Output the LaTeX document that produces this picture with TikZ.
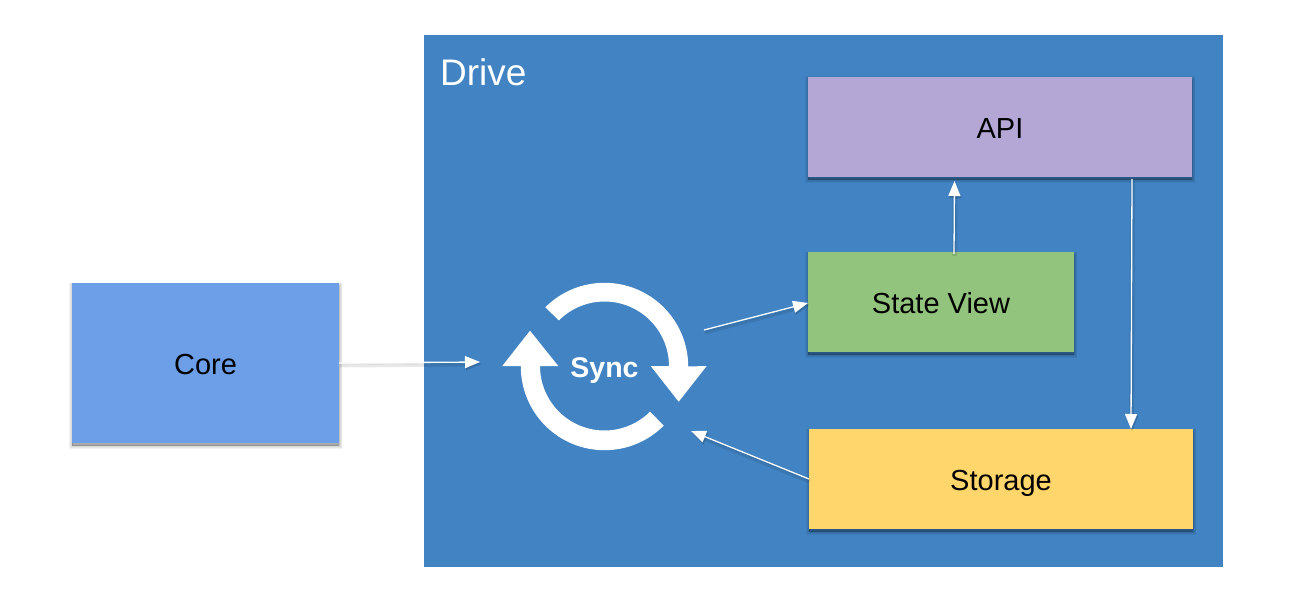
\documentclass[tikz,border=0pt]{standalone}
\usepackage{fontspec}
\setmainfont{Liberation Sans}
\usetikzlibrary{arrows.meta}
\definecolor{drivec}{RGB}{65,131,195}
\definecolor{corec}{RGB}{109,158,232}
\definecolor{apic}{RGB}{180,167,214}
\definecolor{statec}{RGB}{147,196,125}
\definecolor{storec}{RGB}{255,214,108}
\tikzset{
  softlayer/.style={preaction={draw=black,fill=black,draw opacity=.05,fill opacity=.05,line width=#1,transform canvas={xshift=.4pt,yshift=-2.5pt}}},
  softshadow/.style={softlayer=6pt,softlayer=4.5pt,softlayer=3pt,softlayer=1.5pt,softlayer=.3pt},
  panel/.style={anchor=north west,inner sep=0pt,outer sep=0pt,text=black,font=\fontsize{29}{32}\selectfont},
  boxed/.style={panel,softshadow},
  flow/.style={draw=white,line width=1.3pt,-{Triangle[length=15pt,width=12pt,fill=white]}},
  flowshade/.style={draw=black,draw opacity=.09,line width=5pt,shorten >=8pt,transform canvas={xshift=.6pt,yshift=-2pt}},
  headshade/.style={draw=black,opacity=.15,line width=.1pt,-{Triangle[length=15pt,width=12pt]},transform canvas={xshift=1pt,yshift=-2pt}}
}
\begin{document}
\begin{tikzpicture}[x=1pt,y=1pt,yscale=-1]
\useasboundingbox (0,0) rectangle (1294,610);
\fill[white] (0,0) rectangle (1294,610);
% Panels
\node[panel,fill=drivec,minimum width=799pt,minimum height=532pt] (drive) at (424,35) {};
\node[anchor=west,inner sep=0pt,text=white,font=\fontsize{37}{40}\selectfont] (drivelabel) at (440,72) {Drive};
\node[boxed,fill=corec,minimum width=267pt,minimum height=160pt,text height=23pt,text depth=0pt] (core) at (72,283) {Core};
\node[boxed,fill=apic,minimum width=384pt,minimum height=100pt,text height=24pt,text depth=0pt] (api) at (808,77) {API};
\node[boxed,fill=statec,minimum width=266pt,minimum height=100pt,text height=23pt,text depth=0pt] (state) at (808,252) {State View};
\node[boxed,fill=storec,minimum width=384pt,minimum height=100pt,text height=23pt,text depth=0pt] (storage) at (809,429) {Storage};
% Sync cycle
\fill[white] (604.5,366.5) ++(-135:83.7) arc[start angle=-135,end angle=0,radius=83.7]
  -- (706.7,366) -- (678.7,401.7) -- (650.7,366) -- (669,366)
  arc[start angle=0,end angle=-135,radius=64.5] -- cycle;
\fill[white] (604.5,366.5) ++(45:83.7) arc[start angle=45,end angle=180,radius=83.7]
  -- (520.8,366) -- (502.3,366) -- (530,330.7) -- (558.3,366) -- (540,366)
  arc[start angle=180,end angle=45,radius=64.5] -- cycle;
\node[inner sep=0pt,text=white,font=\fontsize{28.5}{30}\selectfont\bfseries] (sync) at (604.5,371) {Sync};
% Connector free ends
\coordinate (syncin) at (480,362);
\coordinate (syncoutfrom) at (704,330);
\coordinate (statein) at (808,303);
\coordinate (statefrom) at (954,254);
\coordinate (apiin) at (954.5,181);
\coordinate (apifrom) at (1132,179);
\coordinate (storein) at (1131,429);
\coordinate (storefrom) at (809,479);
\coordinate (syncback) at (691,431);
% Connector shadows
\draw[flowshade] (core.east) -- (syncin);
\draw[flowshade] (syncoutfrom) -- (statein);
\draw[flowshade] (statefrom) -- (apiin);
\draw[flowshade] (apifrom) -- (storein);
\draw[flowshade] (storefrom) -- (syncback);
\draw[headshade] (core.east) -- (syncin);
\draw[headshade] (syncoutfrom) -- (statein);
\draw[headshade] (statefrom) -- (apiin);
\draw[headshade] (apifrom) -- (storein);
\draw[headshade] (storefrom) -- (syncback);
% Connectors
\draw[flow] (core.east) -- (syncin);
\draw[flow] (syncoutfrom) -- (statein);
\draw[flow] (statefrom) -- (apiin);
\draw[flow] (apifrom) -- (storein);
\draw[flow] (storefrom) -- (syncback);
\end{tikzpicture}
\end{document}
